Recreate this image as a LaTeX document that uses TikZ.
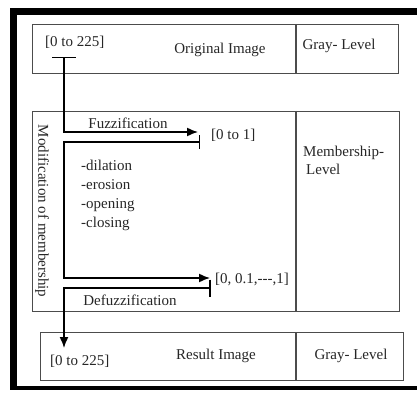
\documentclass[tikz,border=0pt]{standalone}
\usepackage{fontspec}
\setmainfont{Liberation Serif}
\usetikzlibrary{arrows.meta}
\tikzset{
  box/.style={draw=black!70, line width=1.3pt, inner sep=0pt, anchor=north west},
  sep/.style={draw=black!70, line width=1.3pt},
  lbl/.style={font=\fontsize{15}{17}\selectfont, text=black!85, inner sep=0pt, text height=10.5pt, text depth=3pt},
  flow/.style={line width=1.5pt, {Bar[width=#1]}-{Latex[length=11pt,width=9pt]}},
}

\begin{document}
\begin{tikzpicture}[x=1pt,y=-1pt]
\useasboundingbox (0,0) rectangle (417,393);
\clip (0,0) rectangle (417,393);
\draw[line width=7pt] (430,12) -- (13.5,12) -- (13.5,390);
\draw[line width=4.5pt] (11,388) -- (430,388);
\node[box, minimum width=366pt, minimum height=49pt] (orig) at (32,24) {};
\node[box, minimum width=367pt, minimum height=200pt] (memb) at (31.5,111) {};
\node[box, minimum width=363pt, minimum height=47.5pt] (res) at (39.5,332) {};
\coordinate (col) at (296,0);
\draw[sep] (orig.north -| col) -- (orig.south -| col);
\draw[sep] (memb.north -| col) -- (memb.south -| col);
\draw[sep] (res.north -| col) -- (res.south -| col);
\node[lbl, anchor=west] (src) at (45,43) {[0 to 225]};
\node[lbl] (origt) at (220,50) {Original Image};
\node[lbl] (gray1) at (339,46) {Gray- Level};
\node[lbl] (fuz) at (128,125) {Fuzzification};
\node[lbl, anchor=west] (unit) at (211,136) {[0 to 1]};
\node[lbl, anchor=west] (dil) at (81,167) {-dilation};
\node[lbl, anchor=west] (ero) at (81,186) {-erosion};
\node[lbl, anchor=west] (opn) at (81,205) {-opening};
\node[lbl, anchor=west] (cls) at (81,224) {-closing};
\node[lbl, anchor=west] (mem) at (303,153) {Membership-};
\node[lbl, anchor=west] (lev) at (306,171) {Level};
\node[lbl, anchor=west] (steps) at (215,280) {[0, 0.1,-{}-{}-,1]};
\node[lbl] (defuz) at (130,302) {Defuzzification};
\node[lbl, anchor=west] (dst) at (50,362) {[0 to 225]};
\node[lbl] (rest) at (216,356) {Result Image};
\node[lbl] (gray2) at (351,356) {Gray- Level};
\node[lbl, rotate=-90] (mod) at (42,211) {Modification of membership};
\coordinate (spine) at (64,0);
\coordinate (t1) at (64,57);
\coordinate (a1) at (198,132);
\coordinate (b2) at (200,142);
\coordinate (a2) at (210,278);
\coordinate (b3) at (210.5,288);
\coordinate (a3) at (64,348);
\draw[flow=24pt] (t1) |- (a1);
\draw[flow=14pt] (b2) -| (spine |- a2) -- (a2);
\draw[flow=17pt] (b3) -| (a3);
\end{tikzpicture}
\end{document}
